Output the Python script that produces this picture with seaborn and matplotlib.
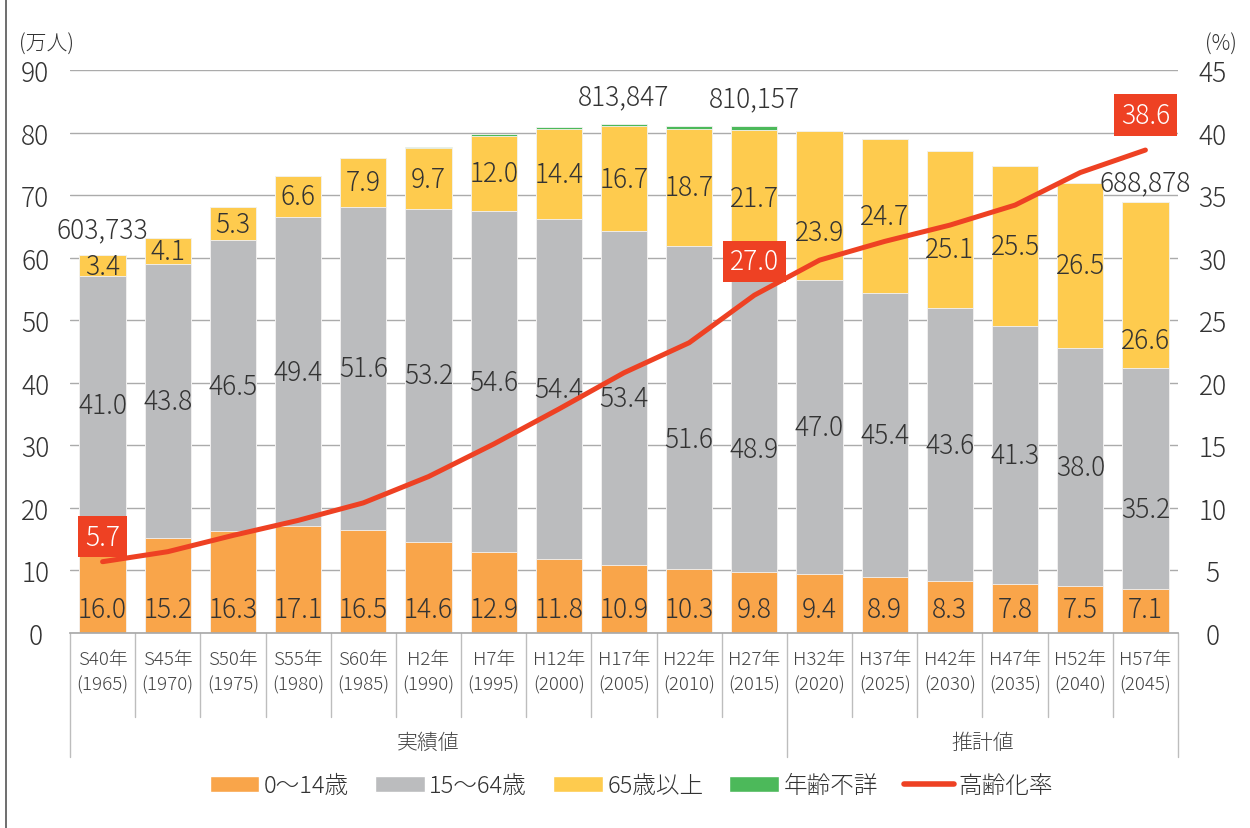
"""
Population by age group (stacked bars) with aging rate line
"""

import numpy as np
import pandas as pd
import matplotlib
matplotlib.use('Agg')
import matplotlib.pyplot as plt
from matplotlib.patches import Patch
from matplotlib.lines import Line2D
import seaborn as sns

# Data (万人 / %)
years = ['S40年\n(1965)', 'S45年\n(1970)', 'S50年\n(1975)', 'S55年\n(1980)', 'S60年\n(1985)',
         'H2年\n(1990)', 'H7年\n(1995)', 'H12年\n(2000)', 'H17年\n(2005)', 'H22年\n(2010)',
         'H27年\n(2015)', 'H32年\n(2020)', 'H37年\n(2025)', 'H42年\n(2030)', 'H47年\n(2035)',
         'H52年\n(2040)', 'H57年\n(2045)']
age_0_14 = [16.0, 15.2, 16.3, 17.1, 16.5, 14.6, 12.9, 11.8, 10.9, 10.3, 9.8, 9.4, 8.9, 8.3, 7.8, 7.5, 7.1]
age_15_64 = [41.0, 43.8, 46.5, 49.4, 51.6, 53.2, 54.6, 54.4, 53.4, 51.6, 48.9, 47.0, 45.4, 43.6, 41.3, 38.0, 35.2]
age_65_over = [3.4, 4.1, 5.3, 6.6, 7.9, 9.7, 12.0, 14.4, 16.7, 18.7, 21.7, 23.9, 24.7, 25.1, 25.5, 26.5, 26.6]
age_unknown = [0.0, 0.0, 0.0, 0.0, 0.0, 0.2, 0.2, 0.3, 0.4, 0.5, 0.6, 0.0, 0.0, 0.0, 0.0, 0.0, 0.0]
aging_rate = [5.7, 6.5, 7.8, 9.0, 10.4, 12.5, 15.1, 17.9, 20.8, 23.2, 27.0, 29.8, 31.3, 32.6, 34.2, 36.8, 38.6]

groups = ['実績値', '推計値']
group_sizes = [11, 6]

total_idx = [0, 8, 10, 16]
total_text = ['603,733', '813,847', '810,157', '688,878']

rate_label_idx = [0, 10, 16]

# Colors
C_CHILD = '#F9A54A'
C_WORK = '#BBBCBE'
C_OLD = '#FECB4E'
C_UNK = '#4CB95A'
C_RATE = '#EE4123'
C_TEXT = '#333333'

sns.set_theme(style='white')
plt.rcParams['font.family'] = ['Noto Sans CJK JP', 'DejaVu Sans']
plt.rcParams['font.weight'] = 'light'

df = pd.DataFrame({
    'year': years,
    'c1': age_0_14,
    'c2': np.add(age_0_14, age_15_64),
})
df['c3'] = df['c2'] + np.array(age_65_over)
df['c4'] = df['c3'] + np.array(age_unknown)
n = len(df)

fig = plt.figure(figsize=(12.5, 8.29), dpi=100)
ax = fig.add_axes([0.056, 0.2352, 0.8864, 0.6792])

# Stacked bars drawn as overlapping cumulative bars
bar_kw = dict(width=0.71, saturation=1, edgecolor='#f4f4f4', linewidth=0.6, ax=ax, order=years)
for col, color in [('c4', C_UNK), ('c3', C_OLD), ('c2', C_WORK), ('c1', C_CHILD)]:
    sns.barplot(data=df, x='year', y=col, color=color, **bar_kw)

ax.set_xlim(-0.5, n - 0.5)
ax.set_ylim(0, 90)
ax.set_yticks(range(0, 91, 10))
ax.set_xlabel('')
ax.set_ylabel('')
ax.yaxis.grid(True, color='#ababab', linewidth=1)
ax.set_axisbelow(True)
for s in ['left', 'right', 'top']:
    ax.spines[s].set_visible(False)
ax.spines['bottom'].set_color('#aaaaaa')
ax.tick_params(axis='y', length=0, pad=25, labelsize=19, labelcolor=C_TEXT)
for lbl in ax.get_yticklabels():
    lbl.set_horizontalalignment('center')
ax.set_xticks(range(n))
ax.set_xticklabels(years, fontsize=13.5, color='#444444', linespacing=1.5)
ax.tick_params(axis='x', length=0, pad=12)

# Value labels inside the bars
work_y = {9: 31.0, 10: 29.4, 16: 19.8}
old_y = {11: 64.1, 13: 61.4, 16: 46.8}
for i in range(n):
    ax.text(i, 3.8, f'{age_0_14[i]:.1f}', ha='center', va='center', fontsize=19, color=C_TEXT)
    yw = work_y.get(i, (df['c1'][i] + df['c2'][i]) / 2)
    ax.text(i, yw, f'{age_15_64[i]:.1f}', ha='center', va='center', fontsize=19, color=C_TEXT)
    yo = old_y.get(i, (df['c2'][i] + df['c3'][i]) / 2)
    ax.text(i, yo, f'{age_65_over[i]:.1f}', ha='center', va='center', fontsize=19, color=C_TEXT)

# Total population labels
total_y = [64.6, 85.8, 85.4, 72.1]
for i, t, y in zip(total_idx, total_text, total_y):
    ax.text(i, y, t, ha='center', va='center', fontsize=19, color=C_TEXT)

# Category separators and group labels
xt = ax.get_xaxis_transform()
edges = np.cumsum([0] + group_sizes) - 0.5
for k in range(n + 1):
    x = k - 0.5
    low = -0.220 if x in edges else -0.149
    ax.plot([x, x], [0, low], transform=xt, color='#bdbdbd', lw=1, clip_on=False)
for g, start, size in zip(groups, edges[:-1], group_sizes):
    ax.text(start + size / 2, -0.194, g, transform=xt, ha='center', va='center',
            fontsize=15, color='#444444')

# Aging rate on secondary axis
ax2 = ax.twinx()
sns.lineplot(x=np.arange(n), y=aging_rate, ax=ax2, color=C_RATE, linewidth=3.6,
             solid_capstyle='round')
ax2.set_xlim(-0.5, n - 0.5)
ax2.set_ylim(0, 45)
ax2.set_yticks(range(0, 46, 5))
ax2.tick_params(axis='y', length=0, pad=25, labelsize=19, labelcolor=C_TEXT)
for lbl in ax2.get_yticklabels():
    lbl.set_horizontalalignment('center')
for s in ax2.spines.values():
    s.set_visible(False)
ax2.grid(False)

rate_box_y = [7.7, 29.7, 41.4]
for i, y in zip(rate_label_idx, rate_box_y):
    ax2.text(i, y, f'{aging_rate[i]:.1f}', ha='center', va='center', fontsize=19, color='white',
             bbox=dict(boxstyle='square,pad=0.25', facecolor=C_RATE, edgecolor='none'))

# Unit labels
fig.text(0.037, 0.946, '(万人)', ha='center', va='center', fontsize=15, color=C_TEXT)
fig.text(0.977, 0.946, '(%)', ha='center', va='center', fontsize=15, color=C_TEXT)

# Legend
handles = [Patch(facecolor=C_CHILD, label='0〜14歳'),
           Patch(facecolor=C_WORK, label='15〜64歳'),
           Patch(facecolor=C_OLD, label='65歳以上'),
           Patch(facecolor=C_UNK, label='年齢不詳'),
           Line2D([0], [0], color=C_RATE, lw=4, solid_capstyle='round', label='高齢化率')]
fig.legend(handles=handles, loc='center', bbox_to_anchor=(0.505, 0.051), ncol=5, frameon=False,
           fontsize=17, handlelength=2.1, handletextpad=0.2, columnspacing=1.1,
           labelcolor=C_TEXT)

# Left frame line
fig.add_artist(Line2D([0.005, 0.005], [0, 1], color='#555555', lw=1.2))

fig.savefig('out.png', dpi=100)
